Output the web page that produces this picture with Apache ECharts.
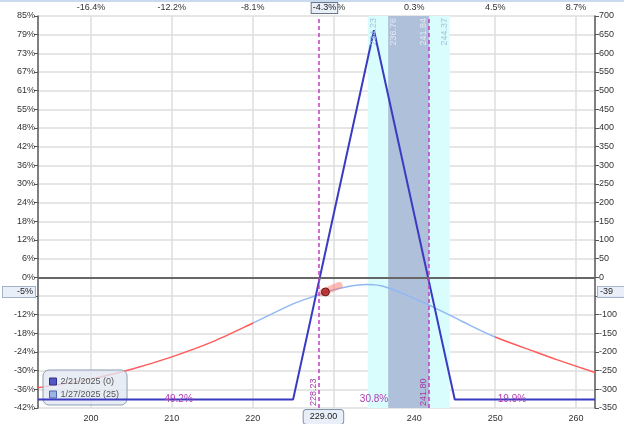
<!DOCTYPE html>
<html><head><meta charset="utf-8">
<script src="https://cdn.jsdelivr.net/npm/echarts@6/dist/echarts.min.js"></script>
<style>html,body{margin:0;padding:0;background:#fff}#c{width:624px;height:424px}</style>
</head><body><div id="c"></div>
<script>
// ---- data ----
const priceTicks = [200, 210, 220, 230, 240, 250, 260];
const topTickLabels = ['-16.4%', '-12.2%', '-8.1%', '-3.9%', '0.3%', '4.5%', '8.7%'];
const pnlTicks = [700, 650, 600, 550, 500, 450, 400, 350, 300, 250, 200, 150, 100, 50, 0, -50, -100, -150, -200, -250, -300, -350];
const pctTickLabels = ['85%', '79%', '73%', '67%', '61%', '55%', '48%', '42%', '36%', '30%', '24%', '18%', '12%', '6%', '0%', '-6%', '-12%', '-18%', '-24%', '-30%', '-36%', '-42%'];
const priceRange = [193.44, 262.35];

const expiryPrice = [193.44, 225, 235, 245, 262.35];
const expiryPnl = [-327, -327, 662, -327, -327];

const todayPrice = [193.44, 200, 205, 210, 215, 220, 225, 228.23, 229, 232, 234, 235, 236, 238, 240, 242.3, 246, 250, 255, 257.7, 262.35];
const todayPnl = [-296, -272, -246, -213, -173, -123, -71, -46, -39, -24, -19, -20, -23, -38, -57, -79, -119, -160, -200, -221, -255];
const todayColorSplit = [220, 250];

const breakevens = [228.23, 241.80];
const breakevenLabels = ['228.23', '241.80'];
const probLabels = ['49.2%', '30.8%', '19.9%'];
const bandOuter = [234.23, 244.37];
const bandInner = [236.76, 241.84];
const bandOuterLabels = ['234.23', '244.37'];
const bandInnerLabels = ['236.76', '241.84'];

const cursorPrice = 229;
const cursorPnl = -39;
const cursorLabels = { top: '-4.3%', bottom: '229.00', left: '-5%', right: '-39' };
const deltaSeg = [[228.6, -41], [230.7, -22]];

const legendNames = ['2/21/2025 (0)', '1/27/2025 (25)'];

// ---- chart ----
const FONT = 'Liberation Sans, Arial, sans-serif';
const GRID_C = '#dedede';
const zip = (a, b) => a.map((v, i) => [v, b[i]]);
const chart = echarts.init(document.getElementById('c'), null, { renderer: 'canvas' });

const xCommon = {
  type: 'value', min: priceRange[0], max: priceRange[1],
  splitLine: { show: true, lineStyle: { color: GRID_C, width: 1.5 } },
  axisTick: { show: true, customValues: priceTicks, length: 3, lineStyle: { color: GRID_C } },
};

const option = {
  animation: false,
  backgroundColor: '#fff',
  grid: { left: 38, right: 29, top: 16, bottom: 16, containLabel: false },
  xAxis: [
    Object.assign({}, xCommon, {
      position: 'bottom',
      axisLine: { show: true, lineStyle: { color: '#cfcfcf', width: 1 } },
      axisLabel: { customValues: priceTicks, margin: 6, fontSize: 9, fontFamily: FONT, color: '#333',
        formatter: v => String(Math.round(v)) },
    }),
    Object.assign({}, xCommon, {
      position: 'top',
      axisLine: { show: true, lineStyle: { color: '#9a9a9a', width: 1.5 } },
      axisLabel: { customValues: priceTicks, margin: 4, fontSize: 9, fontFamily: FONT, color: '#333',
        formatter: v => topTickLabels[priceTicks.indexOf(Math.round(v))] || '' },
      splitLine: { show: false },
    }),
  ],
  yAxis: [
    {
      type: 'value', position: 'left', min: -350, max: 700, interval: 50,
      axisLine: { show: true, lineStyle: { color: '#555', width: 1.5 } },
      axisTick: { show: true, length: 4, lineStyle: { color: '#555' } },
      axisLabel: { margin: 3, fontSize: 9, fontFamily: FONT, color: '#333',
        formatter: v => pctTickLabels[pnlTicks.indexOf(Math.round(v))] || '' },
      splitLine: { show: true, lineStyle: { color: GRID_C, width: 1.5 } },
    },
    {
      type: 'value', position: 'right', min: -350, max: 700, interval: 50,
      axisLine: { show: true, lineStyle: { color: '#555', width: 1.5 } },
      axisTick: { show: true, length: 4, lineStyle: { color: '#555' } },
      axisLabel: { margin: 4, fontSize: 9, fontFamily: FONT, color: '#333' },
      splitLine: { show: false },
    },
  ],
  visualMap: {
    show: false, type: 'piecewise', dimension: 0, seriesIndex: 2,
    pieces: [
      { lt: todayColorSplit[0], color: '#ff5b5b' },
      { gte: todayColorSplit[0], lte: todayColorSplit[1], color: '#90b8f2' },
      { gt: todayColorSplit[1], color: '#ff5b5b' },
    ],
  },
  legend: {
    orient: 'vertical', left: 43, top: 370, icon: 'rect', itemWidth: 7, itemHeight: 7, itemGap: 4,
    padding: [7, 8, 6, 6], backgroundColor: 'rgba(226,233,243,0.8)', borderColor: '#8d9db3', borderWidth: 1, borderRadius: 6,
    textStyle: { fontSize: 9, fontFamily: FONT, color: '#555', padding: [0, 0, 0, -1] },
    data: [
      { name: legendNames[0], itemStyle: { color: '#5656c6', borderColor: '#2e2e88', borderWidth: 1 } },
      { name: legendNames[1], itemStyle: { color: '#9db3e6', borderColor: '#4f68a8', borderWidth: 1 } },
    ],
  },
  series: [
    {
      type: 'line', data: [], z: -5, silent: true, xAxisIndex: 0, yAxisIndex: 1,
      markArea: {
        silent: true,
        data: [
          [{ xAxis: bandOuter[0], itemStyle: { color: '#d9fdfd' } }, { xAxis: bandOuter[1] }],
          [{ xAxis: bandInner[0], itemStyle: { color: '#afc0da' } }, { xAxis: bandInner[1] }],
        ],
      },
    },
    {
      name: legendNames[0], type: 'line', data: zip(expiryPrice, expiryPnl), xAxisIndex: 0, yAxisIndex: 1,
      showSymbol: false, symbol: 'none', z: 4,
      lineStyle: { color: '#3b3bc2', width: 2 }, itemStyle: { color: '#3b3bc2' },
      markLine: {
        silent: true, symbol: 'none', label: { show: false },
        data: [
          { yAxis: 0, lineStyle: { color: '#666', width: 2, type: 'solid' } },
          { xAxis: breakevens[0], lineStyle: { color: '#c23ec2', width: 1.5, type: [4, 3] } },
          { xAxis: breakevens[1], lineStyle: { color: '#c23ec2', width: 1.5, type: [4, 3] } },
        ],
      },
    },
    {
      name: legendNames[1], type: 'line', data: zip(todayPrice, todayPnl), xAxisIndex: 0, yAxisIndex: 1,
      showSymbol: false, symbol: 'none', smooth: 0.3, z: 3,
      lineStyle: { width: 1.5 }, itemStyle: { color: '#90b8f2' },
    },
    {
      type: 'line', data: deltaSeg, xAxisIndex: 0, yAxisIndex: 1, showSymbol: false, symbol: 'none', z: 5, silent: true,
      lineStyle: { color: 'rgba(255,120,105,0.5)', width: 7, cap: 'round' },
    },
    {
      type: 'scatter', data: [[cursorPrice, cursorPnl]], xAxisIndex: 0, yAxisIndex: 1, z: 6, silent: true,
      symbolSize: 8, itemStyle: { color: '#a81a1a', borderColor: '#5a0a0a', borderWidth: 1 },
    },
  ],
};
chart.setOption(option);

// ---- overlay texts, positioned through the chart's scales ----
const px = (x, y) => chart.convertToPixel({ xAxisIndex: 0, yAxisIndex: 1 }, [x, y]);
const g = [];
const topY = px(priceRange[0], 700)[1];
const botY = px(priceRange[0], -350)[1];
const leftX = px(priceRange[0], 0)[0];
const rightX = px(priceRange[1], 0)[0];
const small = '9px ' + FONT;

g.push({ type: 'rect', shape: { x: 0, y: 0, width: 624, height: 2 }, style: { fill: '#c9d9ee' }, z: 100 });

// band labels (vertical, reading upward)
bandOuterLabels.forEach((t, i) => {
  const x = px(bandOuter[i], 0)[0];
  g.push({ type: 'text', x: i === 0 ? x + 1 : x - 1, y: topY + 2, rotation: Math.PI / 2, z: 50,
    style: { text: t, font: small, fill: '#9fc6dc', align: 'right', verticalAlign: i === 0 ? 'top' : 'bottom' } });
});
bandInnerLabels.forEach((t, i) => {
  const x = px(bandInner[i], 0)[0];
  g.push({ type: 'text', x: i === 0 ? x + 1 : x - 1, y: topY + 2, rotation: Math.PI / 2, z: 50,
    style: { text: t, font: small, fill: '#e3e9f4', align: 'right', verticalAlign: i === 0 ? 'top' : 'bottom' } });
});
// breakeven labels at bottom
breakevenLabels.forEach((t, i) => {
  const x = px(breakevens[i], 0)[0];
  g.push({ type: 'text', x: x - 1, y: botY - 2, rotation: Math.PI / 2, z: 50,
    style: { text: t, font: small, fill: '#a33aa3', align: 'left', verticalAlign: 'bottom' } });
});
// probability labels
const segs = [[priceRange[0], breakevens[0]], [breakevens[0], breakevens[1]], [breakevens[1], priceRange[1]]];
probLabels.forEach((t, i) => {
  const p = px((segs[i][0] + segs[i][1]) / 2, expiryPnl[0]);
  g.push({ type: 'text', x: p[0], y: p[1], z: 50,
    style: { text: t, font: '10px ' + FONT, fill: '#b03ab0', align: 'center', verticalAlign: 'middle' } });
});
// cursor boxes
const cp = px(cursorPrice, cursorPnl);
const boxStyle = { font: small, fill: '#222', backgroundColor: '#e9eff8', borderColor: '#7f93ad', borderWidth: 1 };
g.push({ type: 'text', x: cp[0] - 1, y: topY - 8, z: 60,
  style: Object.assign({}, boxStyle, { text: cursorLabels.top, align: 'center', verticalAlign: 'middle', padding: [1, 1, 0, 1], borderColor: '#6a7788' }) });
g.push({ type: 'text', x: cp[0] - 2, y: botY + 9, z: 60,
  style: Object.assign({}, boxStyle, { text: cursorLabels.bottom, align: 'center', verticalAlign: 'middle', padding: [2, 6, 3, 6], borderRadius: 3 }) });
g.push({ type: 'text', x: leftX - 3, y: cp[1], z: 60,
  style: Object.assign({}, boxStyle, { text: cursorLabels.left, align: 'right', verticalAlign: 'middle', padding: [1, 2, 0, 14], borderColor: '#9fb3cc' }) });
g.push({ type: 'text', x: rightX + 3, y: cp[1], z: 60,
  style: Object.assign({}, boxStyle, { text: cursorLabels.right, align: 'left', verticalAlign: 'middle', padding: [1, 14, 0, 2], borderColor: '#9fb3cc' }) });

chart.setOption({ graphic: g });
</script>
</body></html>
